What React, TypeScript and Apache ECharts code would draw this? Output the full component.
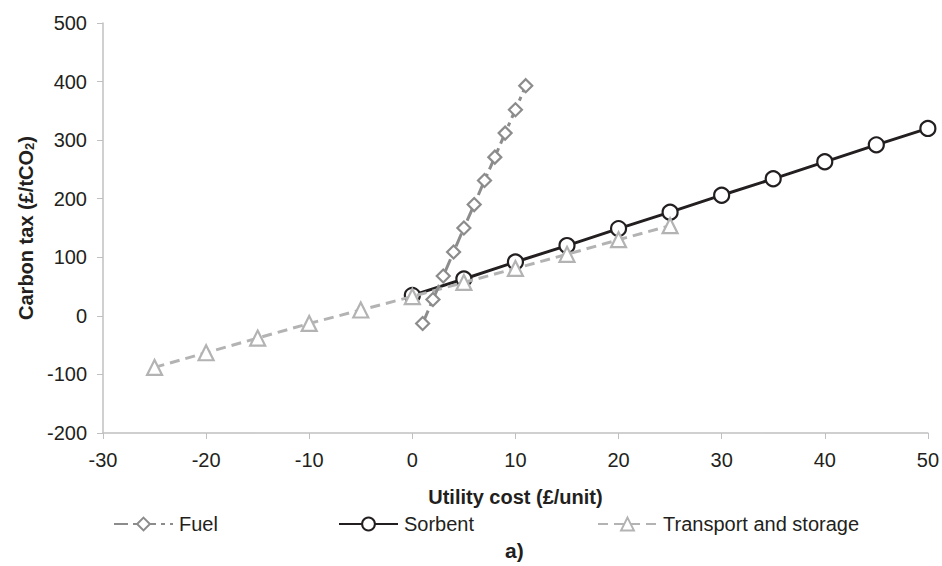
import React, { useEffect, useRef } from "react";
import * as echarts from "echarts";

const fuelX = [1, 2, 3, 4, 5, 6, 7, 8, 9, 10, 11];
const fuelY = [-13, 28, 68, 109, 150, 190, 231, 271, 312, 352, 393];
const sorbentX = [0, 5, 10, 15, 20, 25, 30, 35, 40, 45, 50];
const sorbentY = [35, 63, 92, 120, 149, 177, 206, 234, 263, 292, 320];
const transportX = [-25, -20, -15, -10, -5, 0, 5, 10, 15, 20, 25];
const transportY = [-88, -63, -38, -13, 10, 33, 57, 81, 105, 130, 154];

const zip = (xs: number[], ys: number[]) => xs.map((x, i) => [x, ys[i]]);

const FONT = "'Liberation Sans', Arial, sans-serif";
const TEXT = "#231f20";

export default function App() {
  const ref = useRef<HTMLDivElement>(null);
  useEffect(() => {
    if (!ref.current) return;
    const chart = echarts.init(ref.current, undefined, { renderer: "svg" });
    const legendBase = {
      top: 509,
      itemWidth: 59,
      itemHeight: 16,
      itemGap: 2,
      textStyle: { fontFamily: FONT, fontSize: 20, color: TEXT, padding: [0, 0, 0, 1] },
      selectedMode: false,
    };
    chart.setOption({
      animation: false,
      backgroundColor: "#ffffff",
      textStyle: { fontFamily: FONT },
      grid: { left: 103, right: 11, top: 23, bottom: 133, containLabel: false },
      title: {
        text: "a)",
        left: 505,
        top: 540,
        padding: 0,
        textStyle: { fontFamily: FONT, fontSize: 21, fontWeight: "bold", color: TEXT },
      },
      legend: [
        { ...legendBase, left: 108, data: ["Fuel"] },
        { ...legendBase, left: 333, data: ["Sorbent"] },
        { ...legendBase, left: 592, data: ["Transport and storage"] },
      ],
      xAxis: {
        type: "value",
        min: -30,
        max: 50,
        interval: 10,
        name: "Utility cost (£/unit)",
        nameLocation: "middle",
        nameGap: 54,
        nameTextStyle: { fontFamily: FONT, fontSize: 20, fontWeight: "bold", color: TEXT },
        axisLine: { onZero: false, lineStyle: { color: "#c0c0c0", width: 1.5 } },
        axisTick: { show: true, length: 6, lineStyle: { color: "#c0c0c0" } },
        axisLabel: { fontFamily: FONT, fontSize: 20, color: TEXT, margin: 17 },
        splitLine: { show: false },
      },
      yAxis: {
        type: "value",
        min: -200,
        max: 500,
        interval: 100,
        name: "{a|Carbon tax (£/tCO}{s|2}{a|)}",
        nameLocation: "middle",
        nameGap: 62,
        nameTextStyle: {
          rich: {
            a: { fontFamily: FONT, fontSize: 20, fontWeight: "bold", color: TEXT },
            s: { fontFamily: FONT, fontSize: 13, fontWeight: "bold", color: TEXT, verticalAlign: "bottom", padding: [8, 0, 0, 0] },
          },
        },
        axisLine: { show: true, onZero: false, lineStyle: { color: "#c0c0c0", width: 1.5 } },
        axisTick: { show: true, length: 6, lineStyle: { color: "#c0c0c0" } },
        axisLabel: { fontFamily: FONT, fontSize: 20, color: TEXT, margin: 16 },
        splitLine: { show: false },
      },
      series: [
        {
          name: "Fuel",
          type: "line",
          data: zip(fuelX, fuelY),
          symbol: "diamond",
          symbolSize: 13,
          lineStyle: { color: "#8c8c8c", width: 3, type: [14, 5, 4, 5] },
          itemStyle: { color: "#ffffff", borderColor: "#8c8c8c", borderWidth: 2.2 },
          z: 3,
        },
        {
          name: "Transport and storage",
          type: "line",
          data: zip(transportX, transportY),
          symbol: "triangle",
          symbolSize: 15,
          lineStyle: { color: "#b3b3b3", width: 3, type: [10, 6] },
          itemStyle: { color: "#ffffff", borderColor: "#b3b3b3", borderWidth: 2.2 },
          z: 2,
        },
        {
          name: "Sorbent",
          type: "line",
          data: zip(sorbentX, sorbentY),
          symbol: "circle",
          symbolSize: 15,
          lineStyle: { color: "#231f20", width: 3 },
          itemStyle: { color: "#ffffff", borderColor: "#231f20", borderWidth: 2.2 },
          z: 1,
        },
      ],
    });
    return () => chart.dispose();
  }, []);
  return <div ref={ref} style={{ width: 942, height: 566, position: "absolute", left: 0, top: 0 }} />;
}
